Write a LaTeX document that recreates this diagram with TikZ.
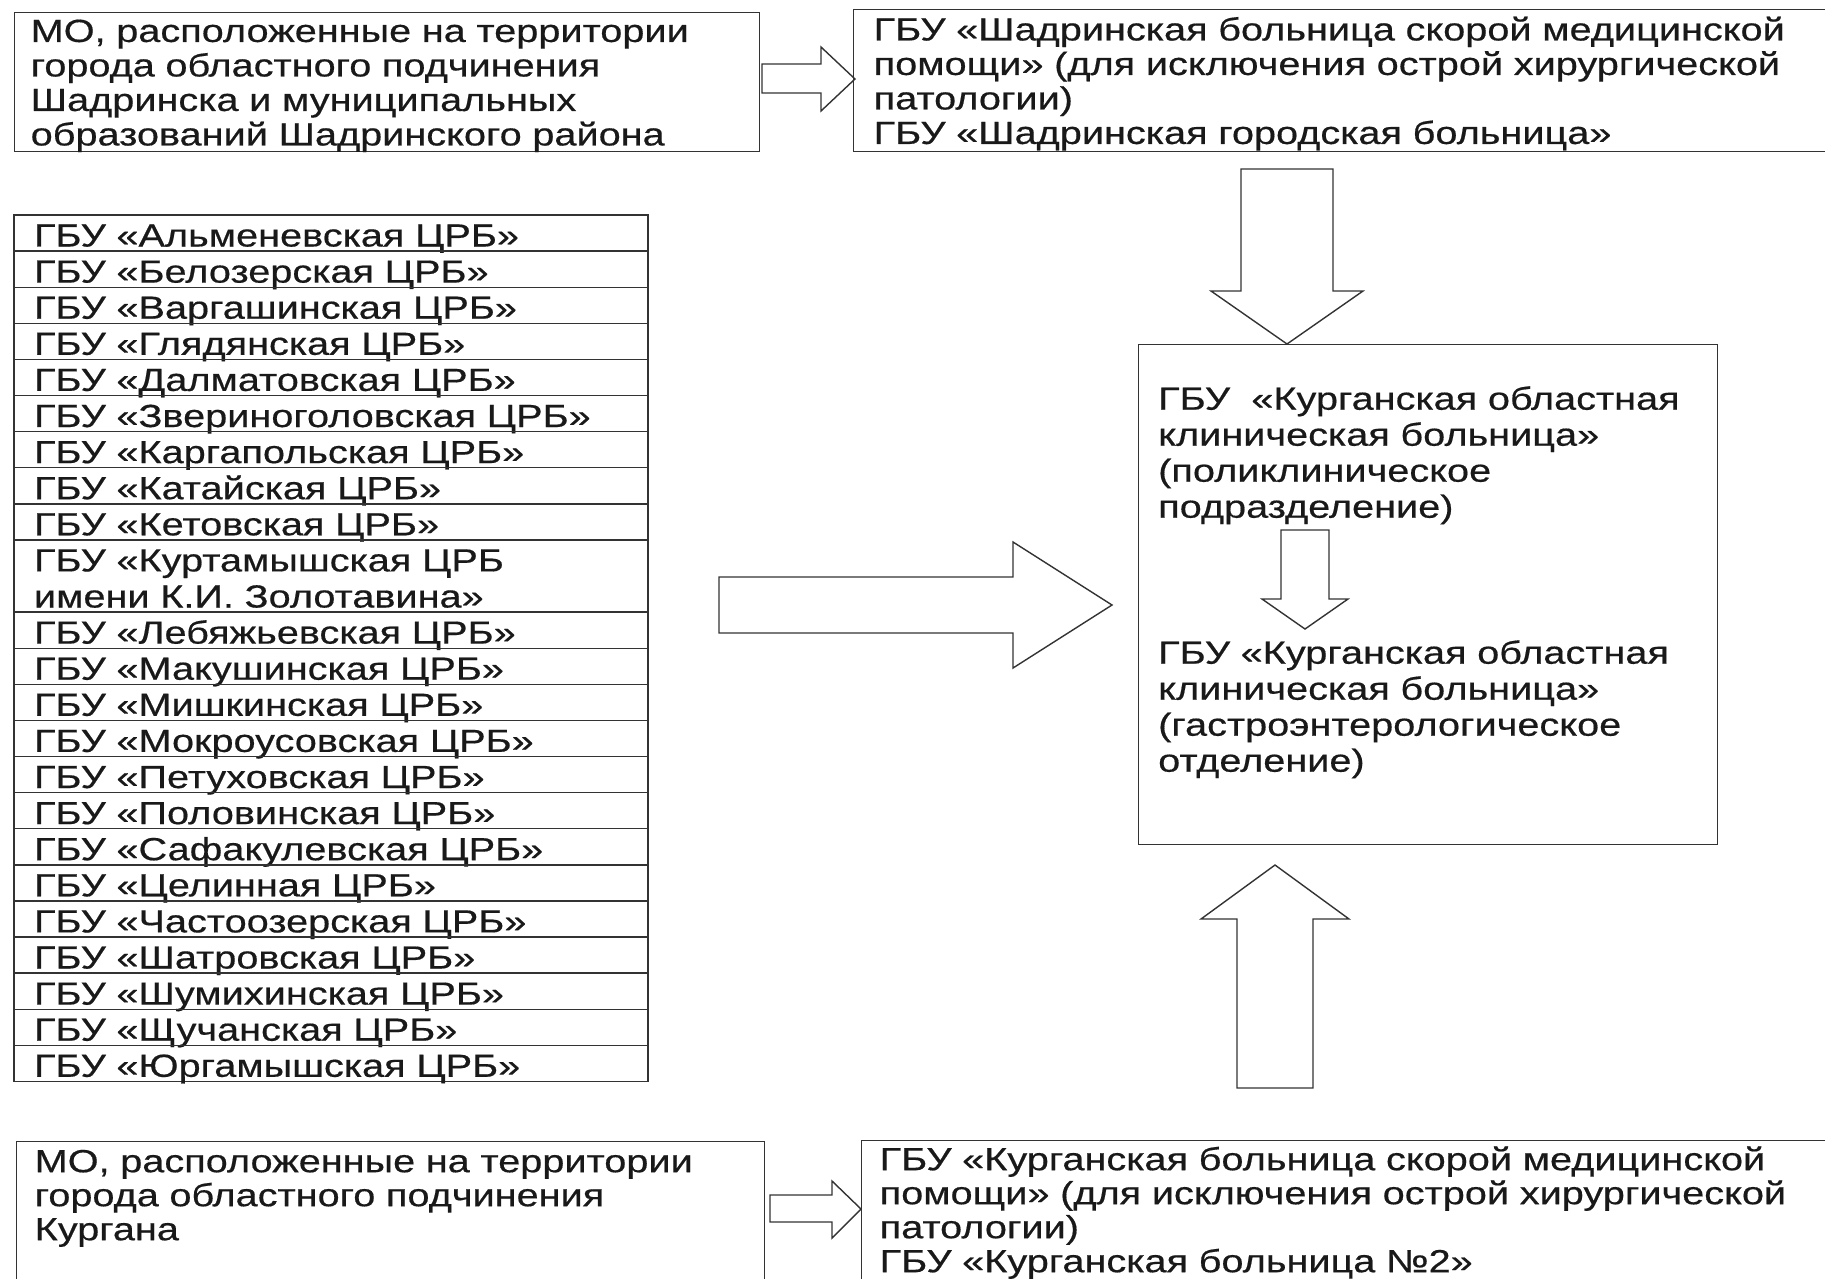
\documentclass[tikz,border=0pt]{standalone}
\usepackage{fontspec}
\setmainfont{Liberation Sans}[FakeStretch=1.24, FakeBold=0.5]
\usetikzlibrary{positioning}

\tikzset{
  box/.style={draw=black!80, line width=1.4pt, align=left, anchor=north west,
    text=black!90, font=\fontsize{32}{34.5}\selectfont},
  cell/.style={draw=black!80, line width=1.4pt, align=left, text width=594pt,
    inner xsep=20pt, inner ysep=0pt, outer sep=0pt, text height=31.5pt,
    text=black!90, font=\fontsize{32}{36.1}\selectfont},
  inbox/.style={anchor=north west, inner sep=0pt, align=left, text width=555pt,
    text height=23pt, text=black!90, font=\fontsize{32}{36}\selectfont},
  fat/.style={draw=black!80, line width=1.4pt, line join=miter},
}

\begin{document}
\begin{tikzpicture}[x=1pt,y=-1pt]
  \useasboundingbox (0,0) rectangle (1825,1278);
  \clip (0,0) rectangle (1825,1278);

  % Shadrinsk
  \node[box, text width=713pt, inner xsep=16pt, minimum height=139pt,
    text height=23pt, text depth=103.5pt] (mosh) at (14,12)
    {МО, расположенные на территории\\города областного подчинения\\Шадринска и муниципальных\\образований Шадринского района};
  \node[box, text width=937pt, inner xsep=20pt, minimum height=142pt,
    text height=23pt, text depth=103.5pt] (shgb) at (853,9)
    {ГБУ «Шадринская больница скорой медицинской\\помощи» (для исключения острой хирургической\\патологии)\\ГБУ «Шадринская городская больница»};
  \draw[fat] (762,64) -- (821,64) -- (821,47) -- (855,79) -- (821,111) -- (821,93) -- (762,93) -- cycle;

  % district hospitals
  \coordinate (r0) at (331,215);
  \foreach \d/\t [count=\i, remember=\i as \j (initially 0)] in {
      4.6/{ГБУ «Альменевская ЦРБ»},
      4.6/{ГБУ «Белозерская ЦРБ»},
      4.6/{ГБУ «Варгашинская ЦРБ»},
      4.6/{ГБУ «Глядянская ЦРБ»},
      4.6/{ГБУ «Далматовская ЦРБ»},
      4.6/{ГБУ «Звериноголовская ЦРБ»},
      4.6/{ГБУ «Каргапольская ЦРБ»},
      4.6/{ГБУ «Катайская ЦРБ»},
      4.6/{ГБУ «Кетовская ЦРБ»},
      40.7/{ГБУ «Куртамышская ЦРБ\\имени К.И. Золотавина»},
      4.6/{ГБУ «Лебяжьевская ЦРБ»},
      4.6/{ГБУ «Макушинская ЦРБ»},
      4.6/{ГБУ «Мишкинская ЦРБ»},
      4.6/{ГБУ «Мокроусовская ЦРБ»},
      4.6/{ГБУ «Петуховская ЦРБ»},
      4.6/{ГБУ «Половинская ЦРБ»},
      4.6/{ГБУ «Сафакулевская ЦРБ»},
      4.6/{ГБУ «Целинная ЦРБ»},
      4.6/{ГБУ «Частоозерская ЦРБ»},
      4.6/{ГБУ «Шатровская ЦРБ»},
      4.6/{ГБУ «Шумихинская ЦРБ»},
      4.6/{ГБУ «Щучанская ЦРБ»},
      4.6/{ГБУ «Юргамышская ЦРБ»}}
    \node[cell, text depth=\d pt, below=0pt of r\j] (r\i) {\t};
  \draw[fat] (719,577) -- (1013,577) -- (1013,542) -- (1112,605) -- (1013,668) -- (1013,633) -- (719,633) -- cycle;

  % regional hospital
  \node[draw=black!80, line width=1.4pt, anchor=north west, minimum width=579pt, minimum height=500pt] (kob) at (1138,344) {};
  \node[inbox] (poly) at (1158,386.5)
    {ГБУ~~«Курганская областная\\клиническая больница»\\(поликлиническое\\подразделение)};
  \node[inbox] (gastro) at (1158,640.5)
    {ГБУ «Курганская областная\\клиническая больница»\\(гастроэнтерологическое\\отделение)};
  \draw[fat] (1241,169) -- (1241,291) -- (1211,291) -- (1287,344) -- (1363,291) -- (1333,291) -- (1333,169) -- cycle;
  \draw[fat] (1281,530) -- (1281,599) -- (1262,599) -- (1305,629) -- (1348,599) -- (1329,599) -- (1329,530) -- cycle;
  \draw[fat] (1237,1088) -- (1237,919) -- (1201,919) -- (1275,865) -- (1349,919) -- (1313,919) -- (1313,1088) -- cycle;

  % Kurgan
  \node[box, text width=712pt, inner xsep=18pt, inner ysep=7.5pt, text height=23pt, text depth=150pt,
    font=\fontsize{32}{34}\selectfont] (mokg) at (16,1141)
    {МО, расположенные на территории\\города областного подчинения\\Кургана};
  \node[box, text width=933pt, inner xsep=18pt, inner ysep=6.5pt, text height=23pt, text depth=150pt,
    font=\fontsize{32}{34}\selectfont] (kgbs) at (861,1140)
    {ГБУ «Курганская больница скорой медицинской\\помощи» (для исключения острой хирургической\\патологии)\\ГБУ «Курганская больница №2»};
  \draw[fat] (770,1195) -- (832,1195) -- (832,1181) -- (861,1209) -- (832,1238) -- (832,1222) -- (770,1222) -- cycle;
\end{tikzpicture}
\end{document}
